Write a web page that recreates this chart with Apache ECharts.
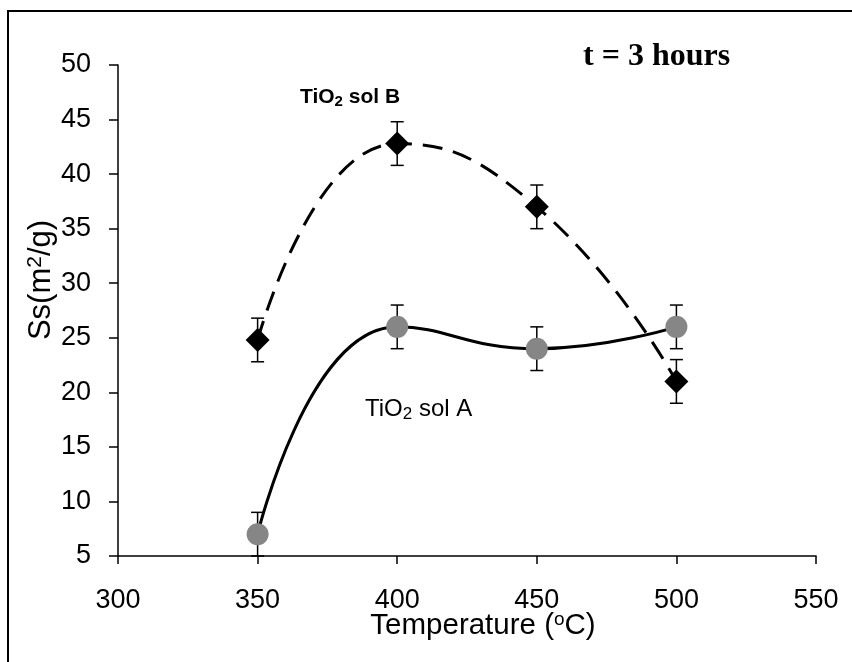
<!DOCTYPE html>
<html>
<head>
<meta charset="utf-8">
<script src="https://cdn.jsdelivr.net/npm/echarts@6/dist/echarts.min.js"></script>
<style>
  html, body { margin: 0; padding: 0; background: #fff; }
  #chart { width: 852px; height: 662px; }
</style>
</head>
<body>
<div id="chart"></div>
<script>
// temperature (°C)
var temps = [350, 400, 450, 500];
// specific surface Ss (m2/g)
var solB = [24.8, 42.8, 37, 21];
var solA = [7, 26, 24, 26];
// error bar half-heights
var errB = [2, 2, 2, 2];
var errA = [2, 2, 2, 2];

var xTicks = [300, 350, 400, 450, 500, 550];
var yTicks = [5, 10, 15, 20, 25, 30, 35, 40, 45, 50];

var chart = echarts.init(document.getElementById('chart'));

function pairs(vals) {
  return temps.map(function (t, i) { return [t, vals[i]]; });
}
function bars(vals, errs) {
  return temps.map(function (t, i) { return [t, vals[i] - errs[i], vals[i] + errs[i]]; });
}

// error bar with small caps
function renderErr(params, api) {
  var x = api.value(0);
  var top = api.coord([x, api.value(2)]);
  var bot = api.coord([x, api.value(1)]);
  var w = 6.5;
  var st = { stroke: '#000', lineWidth: 1.5 };
  return {
    type: 'group',
    children: [
      { type: 'line', shape: { x1: top[0], y1: top[1], x2: bot[0], y2: bot[1] }, style: st },
      { type: 'line', shape: { x1: top[0] - w, y1: top[1], x2: top[0] + w, y2: top[1] }, style: st },
      { type: 'line', shape: { x1: bot[0] - w, y1: bot[1], x2: bot[0] + w, y2: bot[1] }, style: st }
    ]
  };
}

var font = 'Liberation Sans, Arial, sans-serif';

chart.setOption({
  animation: false,
  backgroundColor: '#fff',
  grid: { left: 118, right: 36, top: 65, bottom: 106 },
  xAxis: {
    type: 'value',
    min: 300,
    max: 550,
    interval: 50,
    splitLine: { show: false },
    axisLine: { show: true, lineStyle: { color: '#000', width: 1.5 } },
    axisTick: { show: true, inside: false, length: 8, lineStyle: { color: '#000', width: 1.5 } },
    axisLabel: { color: '#000', fontSize: 27, fontFamily: font, margin: 31,
      formatter: function (v) { return xTicks.indexOf(v) >= 0 ? v : ''; } }
  },
  yAxis: {
    type: 'value',
    min: 5,
    max: 50,
    interval: 5,
    splitLine: { show: false },
    axisLine: { show: true, lineStyle: { color: '#000', width: 1.5 } },
    axisTick: { show: true, inside: false, length: 9, lineStyle: { color: '#000', width: 1.5 } },
    axisLabel: { color: '#000', fontSize: 27, fontFamily: font, margin: 27,
      formatter: function (v) { return yTicks.indexOf(v) >= 0 ? v : ''; } }
  },
  graphic: [
    { type: 'rect', shape: { x: 8, y: 11, width: 1000, height: 1000 },
      style: { fill: 'none', stroke: '#000', lineWidth: 2 }, silent: true },
    { type: 'text', x: 583, y: 57,
      style: { text: 't = 3 hours', fill: '#000', verticalAlign: 'middle',
        font: 'bold 32px "Liberation Serif", "Times New Roman", serif' } },
    { type: 'text', x: 41, y: 280, rotation: Math.PI / 2,
      style: { text: '{n|Ss(m}{s|2}{n|/g)}', align: 'center', verticalAlign: 'middle',
        rich: {
          n: { fontSize: 31, fontFamily: font, fill: '#000' },
          s: { fontSize: 21, fontFamily: font, fill: '#000', padding: [0, 0, 12, 0] }
        } } },
    { type: 'text', x: 483, y: 626,
      style: { text: '{n|Temperature (}{s|o}{n|C)}', align: 'center', verticalAlign: 'middle',
        rich: {
          n: { fontSize: 29.5, fontFamily: font, fill: '#000' },
          s: { fontSize: 19, fontFamily: font, fill: '#000', padding: [0, 0, 13, 0] }
        } } },
    { type: 'text', x: 300, y: 97,
      style: { text: '{n|TiO}{s|2}{n| sol B}', verticalAlign: 'middle',
        rich: {
          n: { fontSize: 21, fontWeight: 'bold', fontFamily: font, fill: '#000' },
          s: { fontSize: 15, fontWeight: 'bold', fontFamily: font, fill: '#000', padding: [9, 0, 0, 0] }
        } } },
    { type: 'text', x: 365, y: 409,
      style: { text: '{n|TiO}{s|2}{n| sol A}', verticalAlign: 'middle',
        rich: {
          n: { fontSize: 24, fontFamily: font, fill: '#000' },
          s: { fontSize: 17, fontFamily: font, fill: '#000', padding: [10, 0, 0, 0] }
        } } }
  ],
  series: [
    {
      name: 'TiO2 sol B',
      type: 'line',
      smooth: 0.5,
      data: pairs(solB),
      symbol: 'diamond',
      symbolSize: 24,
      itemStyle: { color: '#000' },
      lineStyle: { color: '#000', width: 3, type: [20, 11] },
      z: 3
    },
    {
      name: 'TiO2 sol A',
      type: 'line',
      smooth: 0.5,
      data: pairs(solA),
      symbol: 'circle',
      symbolSize: 22,
      itemStyle: { color: '#868686' },
      lineStyle: { color: '#000', width: 3 },
      z: 3
    },
    {
      type: 'custom',
      renderItem: renderErr,
      data: bars(solB, errB),
      encode: { x: 0, y: [1, 2] },
      z: 2
    },
    {
      type: 'custom',
      renderItem: renderErr,
      data: bars(solA, errA),
      encode: { x: 0, y: [1, 2] },
      z: 2
    }
  ]
});
</script>
</body>
</html>
